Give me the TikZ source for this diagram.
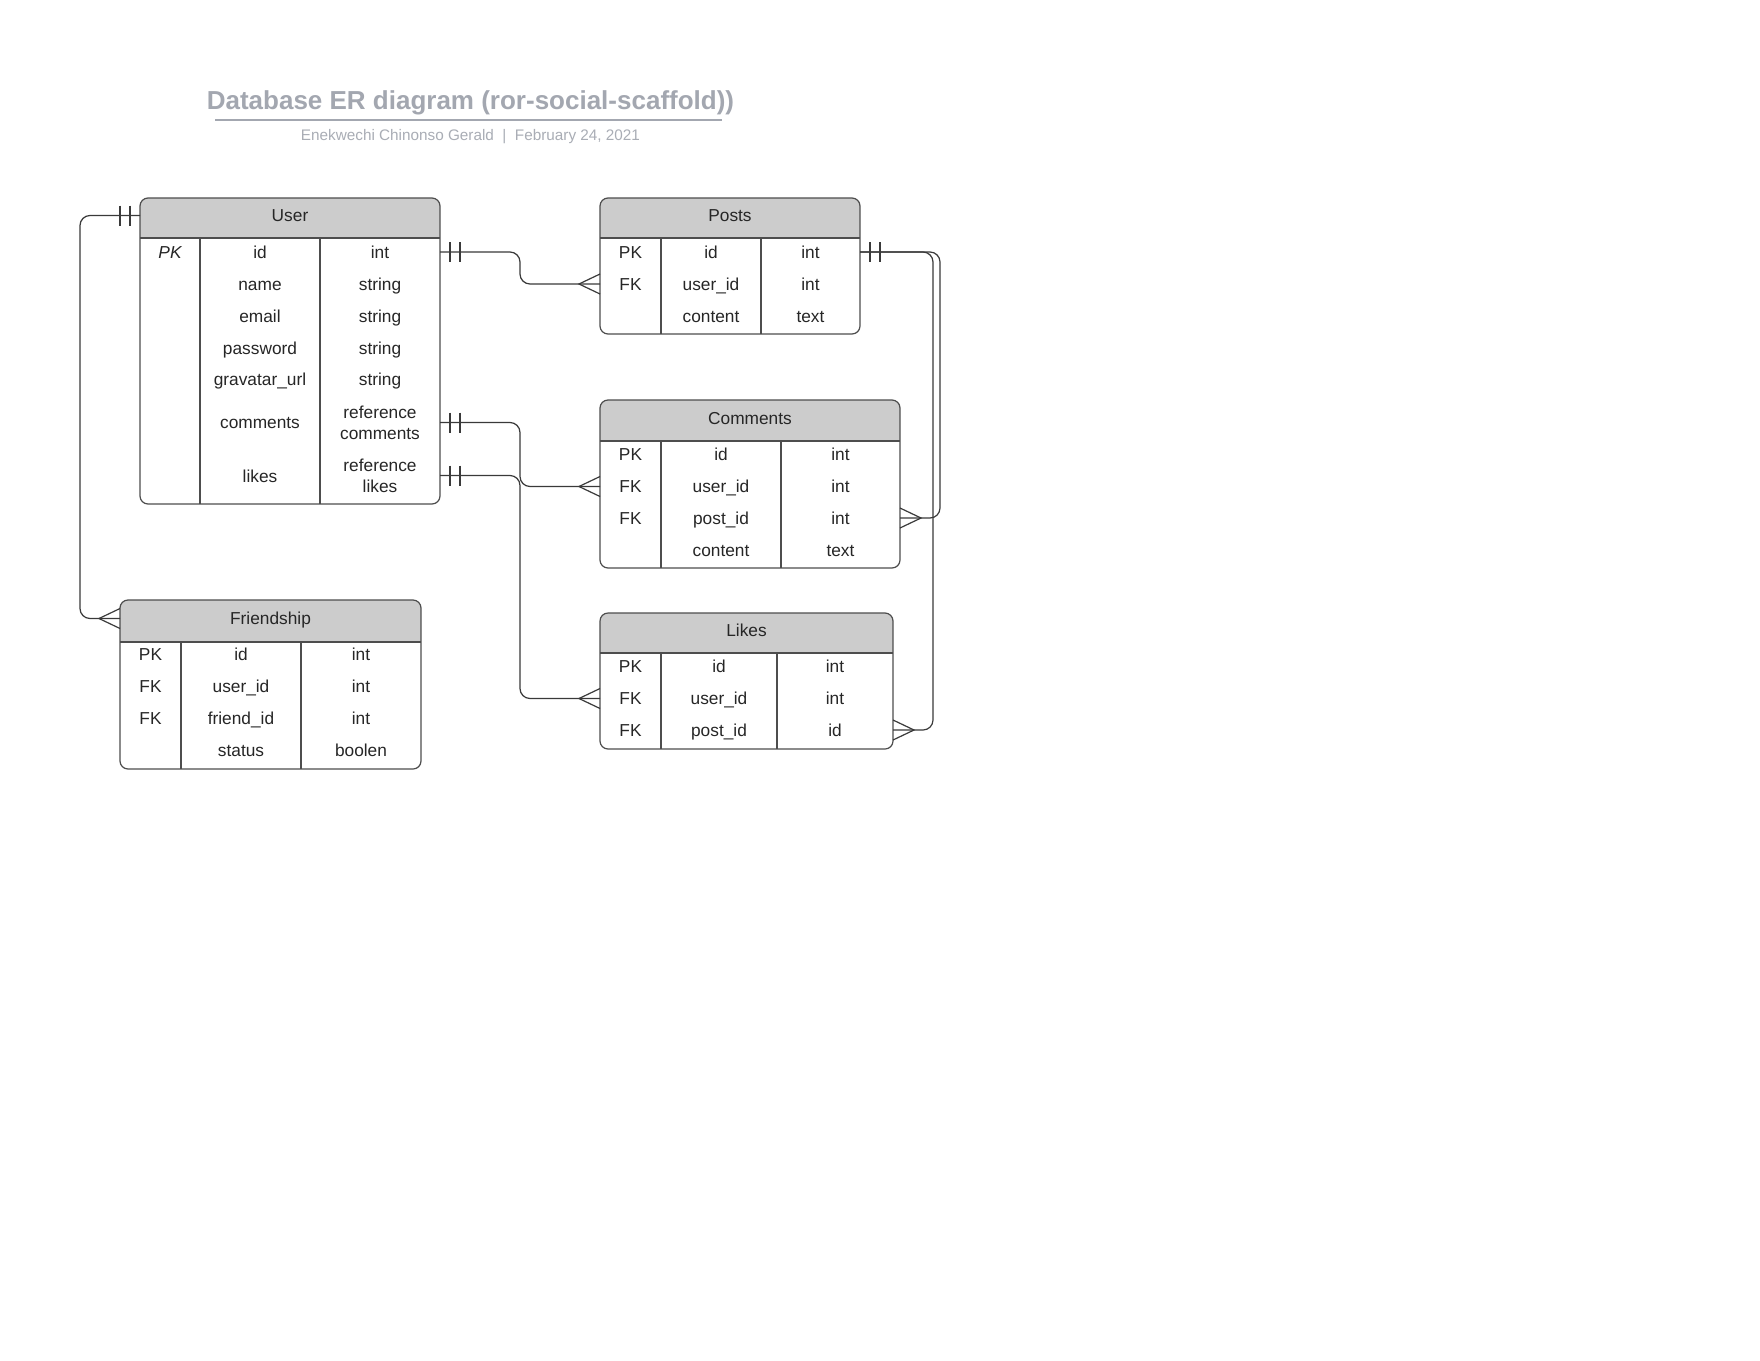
\documentclass[tikz,border=0pt]{standalone}
\usepackage{fontspec}
\setmainfont{Liberation Sans}
\usetikzlibrary{calc,fit}

\definecolor{edgegray}{HTML}{4D4D4D}
\definecolor{headfill}{HTML}{CCCCCC}
\definecolor{titlegray}{HTML}{A3A7B0}
\definecolor{subgray}{HTML}{A9ADB5}
\definecolor{ink}{HTML}{262626}
\definecolor{linkgray}{HTML}{3A3A3A}

\newcommand\erfont{\fontsize{17.3}{21}\selectfont}

\tikzset{
  x=1pt, y=-1pt,
  tablebox/.style={draw=edgegray, line width=1.2pt, rounded corners=8pt, inner sep=0pt, outer sep=0pt},
  grid/.style={draw=edgegray, line width=1.2pt},
  cell/.style={font=\erfont, text=ink, anchor=base, inner sep=0pt, text height=12pt, text depth=0pt},
  cellml/.style={font=\erfont, text=ink, align=center, anchor=center, inner sep=0pt},
  link/.style={draw=linkgray, line width=1.2pt, rounded corners=10pt},
  crowfoot/.pic={\draw[draw=linkgray, line width=1.2pt] (0,-10) -- (-21,0) -- (0,10);},
  onebar/.pic={\draw[draw=linkgray, line width=1.2pt] (10,-10) -- (10,10) (20,-10) -- (20,10);}
}

% #1 name, #2 left, #3 top, #4 right, #5 header bottom, #6 bottom, #7 first divider, #8 second divider, #9 title
\newcommand\ertable[9]{%
  \begin{scope}
    \clip[rounded corners=8pt] (#2,#3) rectangle (#4,#6);
    \fill[headfill] (#2,#3) rectangle (#4,#5);
  \end{scope}
  \coordinate (#1-nw) at (#2,#3);
  \coordinate (#1-se) at (#4,#6);
  \node[tablebox, fit=(#1-nw)(#1-se)] (#1) {};
  \draw[grid] (#2,#5) -- (#4,#5) (#7,#5) -- (#7,#6) (#8,#5) -- (#8,#6);
  \node[cell] (#1-h) at ({(#2+#4)/2},{(#3+#5)/2+3.5}) {#9};
}

% #1 row name, #2 #3 #4 column centres, #5 baseline, #6 key, #7 field, #8 type
\newcommand\errow[8]{%
  \node[cell] (#1-k) at (#2,#5) {#6};
  \node[cell] (#1-f) at (#3,#5) {#7};
  \node[cell] (#1-t) at (#4,#5) {#8};
}

\begin{document}
\begin{tikzpicture}
\useasboundingbox (0,0) rectangle (1760,1360);
\fill[white] (0,0) rectangle (1760,1360);

% heading
\node[font=\fontsize{26}{30}\selectfont\bfseries, text=titlegray, anchor=base, inner sep=0pt]
  (title) at (470.5,109.5) {Database ER diagram (ror-social-scaffold))};
\draw[titlegray, line width=1.6pt] (215,120) -- (722,120);
\node[font=\fontsize{15.3}{18}\selectfont, text=subgray, anchor=base, inner sep=0pt]
  (subtitle) at (470.5,140) {Enekwechi Chinonso Gerald \ | \ February 24, 2021};

% User
\ertable{user}{140}{198}{440}{238}{504}{200}{320}{User}
\errow{u1}{170}{260}{380}{258}{\itshape PK}{id}{int}
\errow{u2}{170}{260}{380}{290}{}{name}{string}
\errow{u3}{170}{260}{380}{322}{}{email}{string}
\errow{u4}{170}{260}{380}{354}{}{password}{string}
\errow{u5}{170}{260}{380}{385.5}{}{gravatar\_url}{string}
\node[cell] (u6-f) at (260,428) {comments};
\node[cellml] (u6-t) at (380,422.5) {reference\\comments};
\node[cell] (u7-f) at (260,482) {likes};
\node[cellml] (u7-t) at (380,475.5) {reference\\likes};

% Posts
\ertable{posts}{600}{198}{860}{238}{334}{661}{761}{Posts}
\errow{p1}{630.5}{711}{810.5}{258}{PK}{id}{int}
\errow{p2}{630.5}{711}{810.5}{290}{FK}{user\_id}{int}
\errow{p3}{630.5}{711}{810.5}{322}{}{content}{text}

% Comments
\ertable{comments}{600}{400}{900}{441}{568}{661}{781}{Comments}
\errow{c1}{630.5}{721}{840.5}{460}{PK}{id}{int}
\errow{c2}{630.5}{721}{840.5}{492.5}{FK}{user\_id}{int}
\errow{c3}{630.5}{721}{840.5}{524}{FK}{post\_id}{int}
\errow{c4}{630.5}{721}{840.5}{556}{}{content}{text}

% Friendship
\ertable{friendship}{120}{600}{421}{642}{769}{181}{301}{Friendship}
\errow{f1}{150.5}{241}{361}{660}{PK}{id}{int}
\errow{f2}{150.5}{241}{361}{692.5}{FK}{user\_id}{int}
\errow{f3}{150.5}{241}{361}{724}{FK}{friend\_id}{int}
\errow{f4}{150.5}{241}{361}{756}{}{status}{boolen}

% Likes
\ertable{likes}{600}{613}{893}{653}{749}{661}{777}{Likes}
\errow{l1}{630.5}{719}{835}{672.5}{PK}{id}{int}
\errow{l2}{630.5}{719}{835}{704.5}{FK}{user\_id}{int}
\errow{l3}{630.5}{719}{835}{736}{FK}{post\_id}{id}

% relationships
\draw[link] (user.east |- u1-t) -| ($(posts.west |- p2-t)+(-80,0)$) -- (posts.west |- p2-t);
\draw[link] (user.east |- u6-t) -| ($(comments.west |- c2-t)+(-80,0)$) -- (comments.west |- c2-t);
\draw[link] (user.east |- u7-t) -| ($(likes.west |- l2-t)+(-80,0)$) -- (likes.west |- l2-t);
\draw[link] (user.west |- user-h) -| ($(friendship.west |- friendship-h)+(-40,0)$) -- (friendship.west |- friendship-h);
\draw[link] (posts.east |- p1-t) -| ($(comments.east |- c3-t)+(40,0)$) -- (comments.east |- c3-t);
\draw[link] (posts.east |- p1-t) -| ($(likes.east |- l3-t)+(40,0)$) -- (likes.east |- l3-t);

% cardinality marks
\pic at (user.east |- u1-t) {onebar};
\pic at (user.east |- u6-t) {onebar};
\pic at (user.east |- u7-t) {onebar};
\pic[xscale=-1] at (user.west |- user-h) {onebar};
\pic at (posts.east |- p1-t) {onebar};
\pic at (posts.west |- p2-t) {crowfoot};
\pic at (comments.west |- c2-t) {crowfoot};
\pic at (likes.west |- l2-t) {crowfoot};
\pic at (friendship.west |- friendship-h) {crowfoot};
\pic[xscale=-1] at (comments.east |- c3-t) {crowfoot};
\pic[xscale=-1] at (likes.east |- l3-t) {crowfoot};
\end{tikzpicture}
\end{document}
